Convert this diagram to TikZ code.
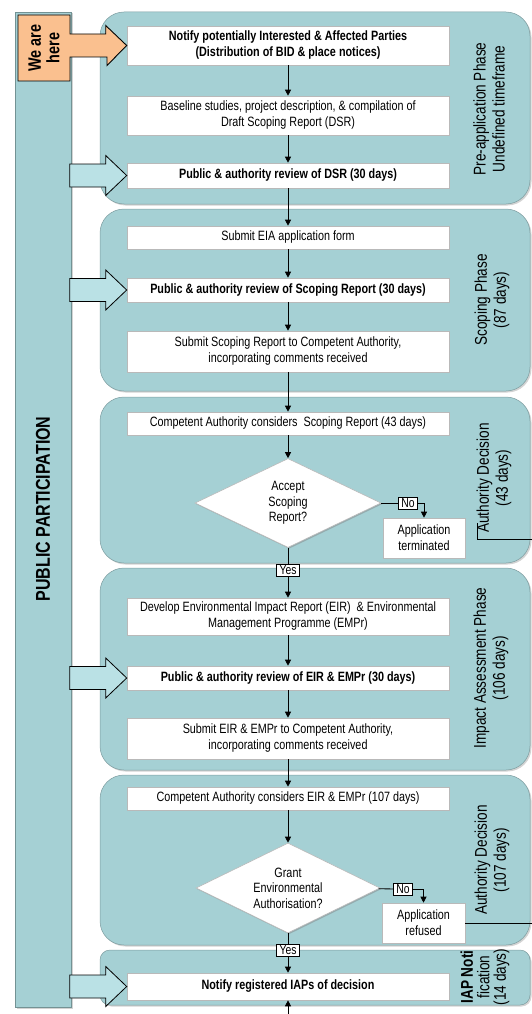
\documentclass[tikz,border=0pt]{standalone}
\usepackage{fontspec}
\setmainfont{Liberation Sans}[FakeStretch=0.8]
\usetikzlibrary{arrows.meta,shapes.geometric,shadows}
\definecolor{panelteal}{RGB}{165,208,212}
\definecolor{arrowteal}{RGB}{186,225,229}
\definecolor{hereorange}{RGB}{250,192,143}
\newcommand\pparrow[1]{\draw[pparrow] (#1.west) -- ++(-21,-20) -- ++(0,8.5) -- ++(-36,0) -- ++(0,23) -- ++(36,0) -- ++(0,8.5) -- cycle;}

\tikzset{
	panel/.style={fill=panelteal, draw=panelteal!75!black, line width=0.5pt, rounded corners=24pt,
		drop shadow={shadow xshift=1.5pt, shadow yshift=-1.5pt, opacity=.35}},
	box/.style={fill=white, draw=gray!55, line width=0.6pt, minimum width=322pt, align=center,
		inner sep=1pt, font=\fontsize{13.5}{16}\selectfont,
		drop shadow={shadow xshift=1.2pt, shadow yshift=-1.2pt, opacity=.45}},
	decision/.style={diamond, aspect=2.1, fill=white, draw=gray!55, line width=0.6pt,
		minimum width=186pt, minimum height=89pt, inner sep=0pt, align=center,
		font=\fontsize{13.5}{15.5}\selectfont,
		drop shadow={shadow xshift=1.2pt, shadow yshift=-1.2pt, opacity=.45}},
	tag/.style={draw, fill=white, line width=0.5pt, inner xsep=3pt, inner ysep=1.5pt, font=\fontsize{13}{14}\selectfont},
	phase/.style={rotate=90, align=center, font=\fontsize{17}{19}\selectfont},
	flow/.style={-{Triangle[length=6pt,width=6pt]}, line width=0.8pt},
	pparrow/.style={fill=arrowteal, draw=black, line width=0.8pt, line join=miter}
}

\begin{document}
\begin{tikzpicture}[x=1pt,y=-1pt]
			\useasboundingbox (0,0) rectangle (532,1014);
			
			%%%%% public participation bar %%%%%
			\draw[fill=panelteal, draw=panelteal!70!black, drop shadow={shadow xshift=1.5pt, shadow yshift=-1.5pt, opacity=.35}] (15,12) rectangle (71,1007);
			\node[rotate=90, font=\fontsize{20}{22}\selectfont\bfseries] (pp) at (43,509) {PUBLIC PARTICIPATION};
			
			%%%%% phases %%%%%
			\draw[panel] (100,12) rectangle (530,204);
			\draw[panel] (100,209) rectangle (530,391);
			\draw[panel] (100,397) rectangle (530,563);
			\draw[panel] (100,568) rectangle (530,770);
			\draw[panel] (100,775) rectangle (530,945);
			\draw[panel, rounded corners=10pt] (100,950) rectangle (530,1005);
			
			\node[phase] (prephase) at (489,109) {Pre-application Phase\\Undefined timeframe};
			\node[phase] (scophase) at (492,300) {Scoping Phase\\(87 days)};
			\node[phase] (authone) at (494,478) {Authority Decision\\(43 days)};
			\node[phase] (impphase) at (491,668) {Impact Assessment Phase\\(106 days)};
			\node[phase] (authtwo) at (492,860) {Authority Decision\\(107 days)};
			\node[phase, font=\fontsize{17}{16.5}\selectfont] (iapphase) at (485,977) {\textbf{IAP Noti}\\fication\\(14 days)};
			
			%%%%% steps %%%%%
			\node[box, minimum height=39pt] (notify) at (288,45.5) {\bfseries Notify potentially Interested \& Affected Parties\\\bfseries (Distribution of BID \& place notices)};
			\node[box, minimum height=39pt] (baseline) at (288,115.5) {Baseline studies, project description, \& compilation of\\Draft Scoping Report (DSR)};
			\node[box, minimum height=25pt, font=\fontsize{13.5}{16}\selectfont\bfseries] (dsrrev) at (288,175.5) {Public \& authority review of DSR (30 days)};
			
			\node[box, minimum height=23pt] (eiaform) at (288,237.5) {Submit EIA application form};
			\node[box, minimum height=24pt, font=\fontsize{13.5}{16}\selectfont\bfseries] (scoperev) at (288,290) {Public \& authority review of Scoping Report (30 days)};
			\node[box, minimum height=41pt] (scopesub) at (288,351.5) {Submit Scoping Report to Competent Authority,\\incorporating comments received};
			
			\node[box, minimum height=23pt] (caconsider) at (288,423.5) {Competent Authority considers\ \ Scoping Report (43 days)};
			\node[decision] (accept) at (288,503) {Accept\\Scoping\\Report?};
			\node[box, minimum width=82pt, minimum height=40pt] (terminated) at (424,538) {Application\\terminated};
			\node[tag] (noone) at (408,503) {No};
			\node[tag] (yesone) at (288,570.5) {Yes};
			
			\node[box, minimum height=37pt] (eir) at (288,616.5) {Develop Environmental Impact Report (EIR)\ \ \& Environmental\\Management Programme (EMPr)};
			\node[box, minimum height=24pt, font=\fontsize{13.5}{16}\selectfont\bfseries] (eirrev) at (288,678) {Public \& authority review of EIR \& EMPr (30 days)};
			\node[box, minimum height=41pt] (eirsub) at (288,738.5) {Submit EIR \& EMPr to Competent Authority,\\incorporating comments received};
			
			\node[box, minimum height=23pt] (caeir) at (288,798.5) {Competent Authority considers EIR \& EMPr (107 days)};
			\node[decision, minimum width=184pt, minimum height=90pt] (grant) at (288,888) {Grant\\Environmental\\Authorisation?};
			\node[box, minimum width=83pt, minimum height=40pt] (refused) at (423.5,923) {Application\\refused};
			\node[tag] (notwo) at (403,889) {No};
			\node[tag] (yestwo) at (288,950) {Yes};
			
			\node[box, minimum height=27pt, font=\fontsize{13.5}{16}\selectfont\bfseries] (notifyiap) at (288,986.5) {Notify registered IAPs of decision};
			
			%%%%% we are here %%%%%
			\draw[fill=hereorange, draw=black, line width=0.9pt, line join=miter] (notify.west) -- ++(-21,-20) -- ++(0,8.5) -- (70,34) -- (70,15) -- (18,15) -- (18,81) -- (70,81) -- (70,57) -- ++(37,0) -- ++(0,8.5) -- cycle;
			\node[rotate=90, align=center, font=\fontsize{18}{18.5}\selectfont\bfseries] (here) at (44,48) {We are\\here};
			
			\pparrow{dsrrev}
			\pparrow{scoperev}
			\pparrow{eirrev}
			\pparrow{notifyiap}
			
			%%%%% flow %%%%%
			\coordinate (edgeone) at (532,539);
			\coordinate (edgetwo) at (532,923);
			\coordinate (below) at (288,1014);
			
			\draw[flow] (notify) -- (baseline);
			\draw[flow] (baseline) -- (dsrrev);
			\draw[flow] (dsrrev) -- (eiaform);
			\draw[flow] (eiaform) -- (scoperev);
			\draw[flow] (scoperev) -- (scopesub);
			\draw[flow] (scopesub) -- (caconsider);
			\draw[flow] (caconsider) -- (accept);
			\draw[line width=0.8pt] (accept) -- (noone);
			\draw[flow] (noone.east) -| (terminated.north);
			\draw[line width=0.8pt] (accept) -- (yesone);
			\draw[flow] (yesone) -- (eir);
			\draw[line width=0.8pt] (477,523) |- (edgeone);
			
			\draw[flow] (eir) -- (eirrev);
			\draw[flow] (eirrev) -- (eirsub);
			\draw[flow] (eirsub) -- (caeir);
			\draw[flow] (caeir) -- (grant);
			\draw[line width=0.8pt] (grant) -- (notwo);
			\draw[flow] (notwo.east) -| (refused.north);
			\draw[line width=0.8pt] (refused) -- (edgetwo);
			\draw[line width=0.8pt] (grant) -- (yestwo);
			\draw[flow] (yestwo) -- (notifyiap);
			\draw[flow] (below) -- (notifyiap);
			
\end{tikzpicture}
\end{document}
